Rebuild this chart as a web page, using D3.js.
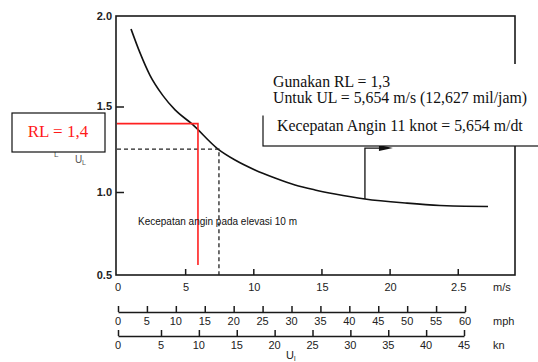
<!DOCTYPE html>
<html>
<head>
<meta charset="utf-8">
<script src="https://cdn.jsdelivr.net/npm/d3@7"></script>
<style>
  body { margin: 0; background: #fff; }
  svg { display: block; }
  .tick-lbl { font-family: "Liberation Sans", Arial, sans-serif; font-size: 11px; fill: #222; }
  .serif { font-family: "Liberation Serif", "Times New Roman", serif; }
</style>
</head>
<body>
<div id="app"></div>
<script>
// R_L curve (wind speed m/s -> R_L)
const curveMs = [1.03, 1.69, 2.42, 3.37, 4.26, 5.5, 7.41, 8.66, 10.12, 11.59, 13.06, 14.53, 15.99, 18.19, 21.28, 23.7, 25.5, 27.22]
const curveRL = [1.928, 1.796, 1.672, 1.56, 1.48, 1.398, 1.251, 1.187, 1.129, 1.082, 1.041, 1.012, 0.988, 0.958, 0.933, 0.919, 0.914, 0.913]

const yTicks = [2.0, 1.5, 1.0, 0.5]
const msTicks = [0, 5, 10, 15, 20, 25]
const msLabels = ['0', '5', '10', '15', '20', '2.5']
const mphTicks = [0, 5, 10, 15, 20, 25, 30, 35, 40, 45, 50, 55, 60]
const knTicks = [0, 5, 10, 15, 20, 25, 30, 35, 40, 45]

// readings
const redRL = 1.4, redMs = 5.94, redBottom = 0.56
const dashRL = 1.251, dashMs = 7.48
const arrowMs = 18.19, arrowCurveRL = 0.958, arrowTop = 1.251

const width = 538
const height = 362

const svg = d3.select('#app').append('svg')
  .attr('width', width)
  .attr('height', height)

svg.append('rect').attr('width', width).attr('height', height).attr('fill', '#fff')

// the scan is a bit uneven, so y uses a piecewise scale
const scaleX = d3.scaleLinear().domain([0, 29.2]).range([117, 515])
const scaleY = d3.scaleLinear().domain([0.5, 1.0, 1.5, 2.0]).range([275, 192, 106.5, 16])
const scaleMph = d3.scaleLinear().domain([0, 60]).range([118, 465])
const scaleKn = d3.scaleLinear().domain([0, 5, 45]).range([118, 161, 464])

// frame
svg.append('rect')
  .attr('x', scaleX(0) - 1).attr('y', scaleY(2.0))
  .attr('width', scaleX(29.2) - scaleX(0) + 1).attr('height', scaleY(0.5) - scaleY(2.0))
  .attr('fill', 'none').attr('stroke', '#1a1a1a').attr('stroke-width', 1.6)

// y axis: ticks inside
const axisY = d3.axisRight(scaleY).tickValues([1.5, 1.0]).tickSize(8).tickFormat('')
svg.append('g').attr('transform', `translate(${scaleX(0) - 1},0)`).call(axisY)
  .call(g => g.select('.domain').remove())
  .call(g => g.selectAll('line').attr('stroke', '#1a1a1a').attr('stroke-width', 1.5))

svg.append('g').selectAll('text').data(yTicks).join('text')
  .attr('class', 'tick-lbl')
  .attr('x', 112).attr('y', d => scaleY(d) + 3.5)
  .attr('text-anchor', 'end').attr('font-weight', 'bold').attr('font-size', 10)
  .text(d => d.toFixed(1))

// x axis (m/s): ticks pointing up inside the frame
const axisX = d3.axisTop(scaleX).tickValues(msTicks.slice(1)).tickSize(6).tickFormat('')
svg.append('g').attr('transform', `translate(0,${scaleY(0.5)})`).call(axisX)
  .call(g => g.select('.domain').remove())
  .call(g => g.selectAll('line').attr('stroke', '#1a1a1a').attr('stroke-width', 1.5))

svg.append('g').selectAll('text').data(msTicks).join('text')
  .attr('class', 'tick-lbl')
  .attr('x', d => scaleX(d) + 1).attr('y', 291)
  .attr('text-anchor', 'middle')
  .text((d, i) => msLabels[i])
svg.append('text').attr('class', 'tick-lbl').attr('x', 493).attr('y', 291).text('m/s')

// mph and kn scales
const makeUnitAxis = (scale, ticks, y, unit) => {
  const ax = d3.axisTop(scale).tickValues(ticks).tickSize(6).tickSizeOuter(0).tickFormat('')
  svg.append('g').attr('transform', `translate(0,${y})`).call(ax)
    .call(g => g.select('.domain').attr('stroke', '#1a1a1a').attr('stroke-width', 1.5))
    .call(g => g.selectAll('line').attr('stroke', '#1a1a1a').attr('stroke-width', 1.5))
  svg.append('g').selectAll('text').data(ticks).join('text')
    .attr('class', 'tick-lbl')
    .attr('x', d => scale(d)).attr('y', y + 12.5)
    .attr('text-anchor', 'middle')
    .text(d => d)
  svg.append('text').attr('class', 'tick-lbl').attr('x', 493).attr('y', y + 12.5).text(unit)
}
makeUnitAxis(scaleMph, mphTicks, 312, 'mph')
makeUnitAxis(scaleKn, knTicks, 336, 'kn')

// U_l under the kn scale
const ul = svg.append('text').attr('class', 'tick-lbl').attr('x', 286).attr('y', 359)
ul.append('tspan').text('U')
ul.append('tspan').attr('font-size', 7).attr('dy', 1.5).text('l')

// y axis label (mostly hidden behind the RL box)
const yl = svg.append('g').attr('fill', '#555').attr('font-family', 'Liberation Sans, Arial, sans-serif')
yl.append('text').attr('x', 44).attr('y', 152).attr('font-size', 11).text('R')
yl.append('text').attr('x', 54).attr('y', 157).attr('font-size', 8).text('L')
yl.append('text').attr('x', 75).attr('y', 163).attr('font-size', 10).text('U')
yl.append('text').attr('x', 82).attr('y', 165).attr('font-size', 7).text('L')

// curve
const pts = curveMs.map((m, i) => [m, curveRL[i]])
const line = d3.line().x(d => scaleX(d[0])).y(d => scaleY(d[1])).curve(d3.curveMonotoneX)
svg.append('path').datum(pts).attr('d', line)
  .attr('fill', 'none').attr('stroke', '#111').attr('stroke-width', 1.6)

// dashed reading lines
svg.append('path')
  .attr('d', `M${scaleX(0)},${scaleY(dashRL)}H${scaleX(dashMs)}V${scaleY(0.5)}`)
  .attr('fill', 'none').attr('stroke', '#222').attr('stroke-width', 1.3)
  .attr('stroke-dasharray', '4,3')

// red reading lines
svg.append('path')
  .attr('d', `M${scaleX(0)},${scaleY(redRL)}H${scaleX(redMs)}V${scaleY(redBottom)}`)
  .attr('fill', 'none').attr('stroke', '#ff2020').attr('stroke-width', 1.6)

// inner caption
svg.append('text').attr('x', 138).attr('y', 225)
  .attr('font-family', 'Liberation Sans, Arial, sans-serif').attr('font-size', 10).attr('fill', '#111')
  .text('Kecepatan angin pada elevasi 10 m')

// arrow from curve
const ax = scaleX(arrowMs)
svg.append('path')
  .attr('d', `M${ax},${scaleY(arrowCurveRL)}V${scaleY(arrowTop) - 1}H${ax + 16}`)
  .attr('fill', 'none').attr('stroke', '#111').attr('stroke-width', 1.3)
svg.append('path')
  .attr('d', `M${ax + 14},${scaleY(arrowTop) - 4}L${ax + 28},${scaleY(arrowTop) - 1}L${ax + 14},${scaleY(arrowTop) + 2}Z`)
  .attr('fill', '#111')

// annotation boxes
svg.append('rect').attr('x', 263).attr('y', 108).attr('width', 300).attr('height', 38)
  .attr('fill', '#fff').attr('stroke', '#111').attr('stroke-width', 1.2)
svg.append('rect').attr('x', 262).attr('y', 64).attr('width', 276).attr('height', 51.5)
  .attr('fill', '#fff')

svg.append('text').attr('class', 'serif').attr('x', 273).attr('y', 86.5)
  .attr('font-size', 15.8).attr('fill', '#111').text('Gunakan RL = 1,3')
svg.append('text').attr('class', 'serif').attr('x', 273).attr('y', 102.5)
  .attr('font-size', 15.8).attr('fill', '#111').text('Untuk UL = 5,654 m/s (12,627 mil/jam)')
svg.append('text').attr('class', 'serif').attr('x', 277).attr('y', 130.5)
  .attr('font-size', 15.8).attr('fill', '#111').text('Kecepatan Angin 11 knot = 5,654 m/dt')

svg.append('rect').attr('x', 12).attr('y', 113).attr('width', 93).attr('height', 39)
  .attr('fill', '#fff').attr('stroke', '#111').attr('stroke-width', 1.2)
svg.append('text').attr('class', 'serif').attr('x', 58).attr('y', 136.5)
  .attr('text-anchor', 'middle').attr('font-size', 17).attr('fill', '#ff1a1a')
  .text('RL = 1,4')
</script>
</body>
</html>
